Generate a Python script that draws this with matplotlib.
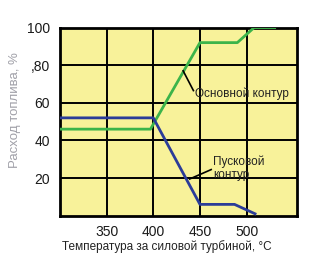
# fuel split between main and pilot circuits vs. power turbine exhaust temperature
import matplotlib.pyplot as plt

plt.rcParams['font.family'] = ['Liberation Sans', 'DejaVu Sans']

# values
main_temp = [300, 397, 450, 490, 508, 530]
main_flow = [46, 46, 92, 92, 100, 100]

pilot_temp = [300, 400, 450, 487, 509]
pilot_flow = [52, 52, 6, 6, 1]

x_ticks = [350, 400, 450, 500]
x_labels = ['350', '400', '450', '500']
y_ticks = [20, 40, 60, 80, 100]
y_labels = ['20', '40', '60', ',80', '100']

fig = plt.figure(figsize=(3.29, 2.73), dpi=100)
ax = fig.add_axes([0.182, 0.21, 0.721, 0.689])
ax.set_facecolor('#f8f29a')

ax.plot(main_temp, main_flow, color='#3cb44a', lw=2, zorder=3)
ax.plot(pilot_temp, pilot_flow, color='#2b3c98', lw=2, zorder=3)

ax.set_xlim(300, 554)
ax.set_ylim(0, 100)
ax.set_xticks(x_ticks)
ax.set_xticklabels(x_labels)
ax.set_yticks(y_ticks)
ax.set_yticklabels(y_labels)
ax.tick_params(length=0, labelsize=10, pad=7, colors='#1a1a1a')
ax.grid(True, color='black', lw=1.4, zorder=2)
ax.set_axisbelow(False)
for s in ax.spines.values():
    s.set_linewidth(2)

# labels for the two curves with their leader lines
ax.text(445, 65, 'Основной контур', fontsize=8.5, va='center', color='#222222', zorder=4)
ax.plot([432, 443], [77, 66.5], color='black', lw=1.2, zorder=4)
ax.text(464, 28.5, 'Пусковой', fontsize=8.5, va='center', color='#222222', zorder=4)
ax.text(464, 21.5, 'контур', fontsize=8.5, va='center', color='#222222', zorder=4)
ax.plot([439, 462], [19.5, 24.5], color='black', lw=1.2, zorder=4)

ax.set_xlabel('Температура за силовой турбиной, °C', fontsize=8.5, color='#222222')
ax.xaxis.set_label_coords(0.45, -0.13)
ax.set_ylabel('Расход топлива, %', fontsize=9.5, color='#a0a0a8')
ax.yaxis.set_label_coords(-0.165, 0.56)

fig.savefig('out.png', dpi=100)
